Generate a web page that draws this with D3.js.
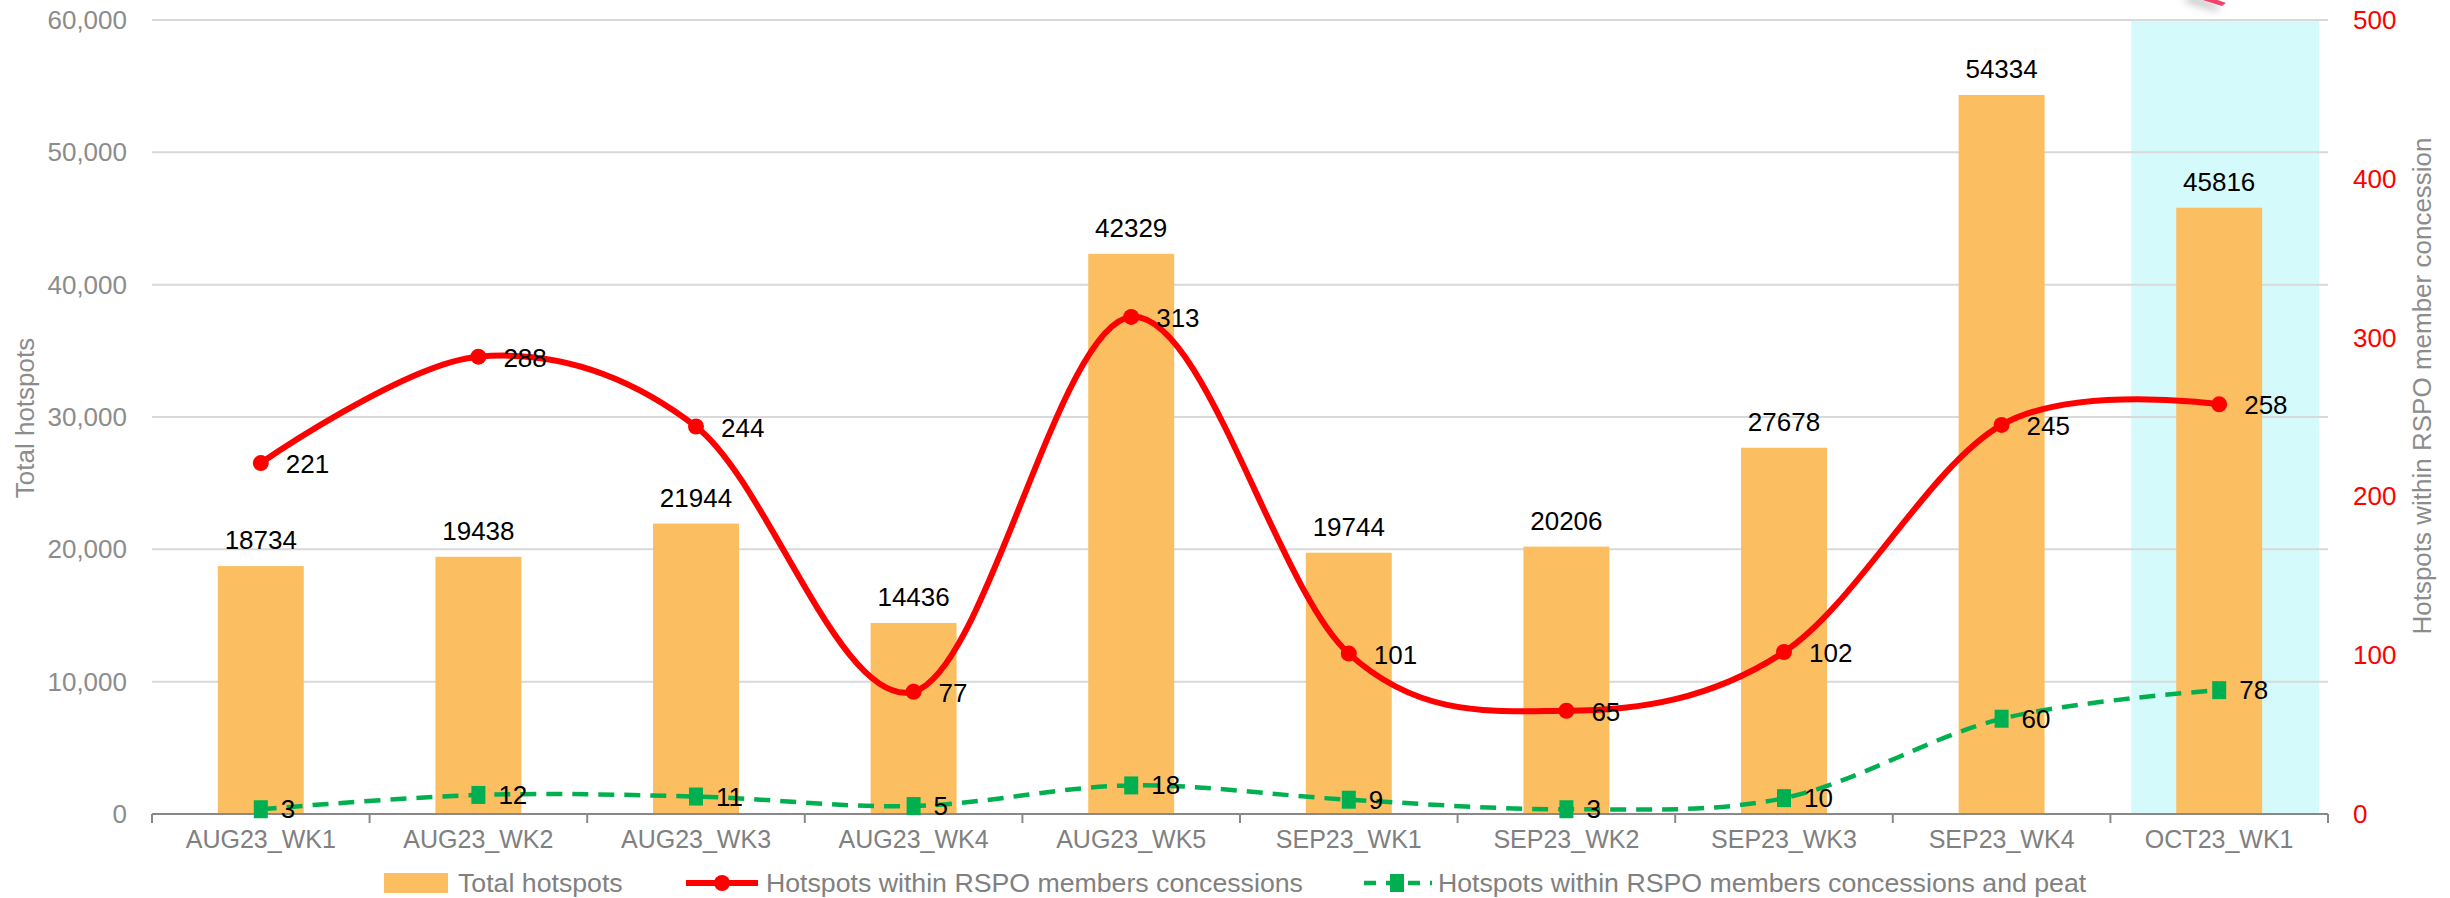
<!DOCTYPE html>
<html><head><meta charset="utf-8">
<script src="https://cdn.jsdelivr.net/npm/d3@7"></script>
<style>body{margin:0;background:#fff} text{font-family:"Liberation Sans",Arial,sans-serif}</style>
</head><body><svg id="c" width="2450" height="898"></svg>
<script>
const categories = ["AUG23_WK1","AUG23_WK2","AUG23_WK3","AUG23_WK4","AUG23_WK5","SEP23_WK1","SEP23_WK2","SEP23_WK3","SEP23_WK4","OCT23_WK1"];
const totalHotspots = [18734,19438,21944,14436,42329,19744,20206,27678,54334,45816];
const rspoConcessions = [221,288,244,77,313,101,65,102,245,258];
const rspoPeat = [3,12,11,5,18,9,3,10,60,78];
const leftTicks = [0,10000,20000,30000,40000,50000,60000];
const rightTicks = [0,100,200,300,400,500];
const highlightCategory = "OCT23_WK1";
const seriesNames = ["Total hotspots","Hotspots within RSPO members concessions","Hotspots within RSPO members concessions and peat"];
const leftTitle = "Total hotspots";
const rightTitle = "Hotspots within RSPO member concession";

const svg = d3.select("#c");
const L=152, R=2328, T=20, B=814;
const x = d3.scaleBand().domain(categories).range([L,R]).paddingInner(0.605).paddingOuter(0.3025);
const step = x.step();
const cx = c => x(c) + x.bandwidth()/2;
const yL = d3.scaleLinear().domain([0,60000]).range([B,T]);
const yR = d3.scaleLinear().domain([0,500]).range([B,T]);

// highlight band
svg.append("rect").attr("x", cx(highlightCategory)-88).attr("y", T)
  .attr("width", 188).attr("height", B-T).attr("fill", "#D5FAFB");

// gridlines
svg.append("g").selectAll("line").data(leftTicks.filter(d=>d>0)).join("line")
  .attr("x1",L).attr("x2",R).attr("y1",d=>yL(d)).attr("y2",d=>yL(d))
  .attr("stroke","#D9D9D9").attr("stroke-width",2);

// bars
svg.append("g").selectAll("rect").data(totalHotspots).join("rect")
  .attr("x",(d,i)=>x(categories[i])).attr("width",x.bandwidth())
  .attr("y",d=>yL(d)).attr("height",d=>B-yL(d)).attr("fill","#FBBF62");
svg.append("g").selectAll("text").data(totalHotspots).join("text")
  .attr("x",(d,i)=>cx(categories[i])).attr("y",d=>yL(d)-17)
  .attr("text-anchor","middle").attr("font-size",26).attr("fill","#000").text(d=>d);

// x axis
svg.append("line").attr("x1",L).attr("x2",R).attr("y1",B).attr("y2",B).attr("stroke","#898989").attr("stroke-width",2);
svg.append("g").selectAll("line").data(d3.range(categories.length+1)).join("line")
  .attr("x1",i=>L+i*step).attr("x2",i=>L+i*step).attr("y1",B).attr("y2",B+9)
  .attr("stroke","#898989").attr("stroke-width",2);
svg.append("g").selectAll("text").data(categories).join("text")
  .attr("x",d=>cx(d)).attr("y",848).attr("text-anchor","middle")
  .attr("font-size",25).attr("fill","#808080").text(d=>d);

// left axis labels
const fmt = d3.format(",");
svg.append("g").selectAll("text").data(leftTicks).join("text")
  .attr("x",127).attr("y",d=>yL(d)+9).attr("text-anchor","end")
  .attr("font-size",26).attr("fill","#8C8C8C").text(d=>fmt(d));
// right axis labels
svg.append("g").selectAll("text").data(rightTicks).join("text")
  .attr("x",2353).attr("y",d=>yR(d)+9).attr("text-anchor","start")
  .attr("font-size",26).attr("fill","#FF0000").text(d=>d);

// titles
svg.append("text").attr("transform","translate(34,418) rotate(-90)").attr("text-anchor","middle")
  .attr("font-size",26).attr("fill","#8C8C8C").text(leftTitle);
svg.append("text").attr("transform","translate(2431,386) rotate(-90)").attr("text-anchor","middle")
  .attr("font-size",26).attr("fill","#8C8C8C").text(rightTitle);

const curve = d3.curveCardinal.tension(0);
// green line
const gLine = d3.line().x((d,i)=>cx(categories[i])).y(d=>yR(d)).curve(curve);
svg.append("path").attr("d",gLine(rspoPeat)).attr("fill","none")
  .attr("stroke","#00B050").attr("stroke-width",4.5).attr("stroke-dasharray","16,10");
svg.append("g").selectAll("rect").data(rspoPeat).join("rect")
  .attr("x",(d,i)=>cx(categories[i])-7).attr("y",d=>yR(d)-9)
  .attr("width",14).attr("height",18).attr("fill","#00B050");
svg.append("g").selectAll("text").data(rspoPeat).join("text")
  .attr("x",(d,i)=>cx(categories[i])+20).attr("y",d=>yR(d)+9)
  .attr("font-size",26).attr("fill","#000").text(d=>d);

// red line
const rLine = d3.line().x((d,i)=>cx(categories[i])).y(d=>yR(d)).curve(curve);
svg.append("path").attr("d",rLine(rspoConcessions)).attr("fill","none")
  .attr("stroke","#FF0000").attr("stroke-width",6);
svg.append("g").selectAll("circle").data(rspoConcessions).join("circle")
  .attr("cx",(d,i)=>cx(categories[i])).attr("cy",d=>yR(d)).attr("r",8).attr("fill","#FF0000");
svg.append("g").selectAll("text").data(rspoConcessions).join("text")
  .attr("x",(d,i)=>cx(categories[i])+25).attr("y",d=>yR(d)+10)
  .attr("font-size",26).attr("fill","#000").text(d=>d);

// legend
const LY = 883;
const lg = svg.append("g");
lg.append("rect").attr("x",384).attr("y",LY-10).attr("width",64).attr("height",20).attr("fill","#FBBF62");
lg.append("text").attr("x",458).attr("y",LY+9).attr("font-size",26.7).attr("fill","#808080").text(seriesNames[0]);
lg.append("line").attr("x1",686).attr("x2",758).attr("y1",LY).attr("y2",LY).attr("stroke","#FF0000").attr("stroke-width",6);
lg.append("circle").attr("cx",722).attr("cy",LY).attr("r",8).attr("fill","#FF0000");
lg.append("text").attr("x",766).attr("y",LY+9).attr("font-size",26.7).attr("fill","#808080").text(seriesNames[1]);
lg.append("line").attr("x1",1362).attr("x2",1432).attr("y1",LY).attr("y2",LY).attr("stroke","#00B050").attr("stroke-width",4.5).attr("stroke-dasharray","12,10").attr("stroke-dashoffset",-2);
lg.append("rect").attr("x",1390).attr("y",LY-9).attr("width",14).attr("height",18).attr("fill","#00B050");
lg.append("text").attr("x",1438).attr("y",LY+9).attr("font-size",26.7).attr("fill","#808080").text(seriesNames[2]);

// partial arrow tip at top
const defs = svg.append("defs");
const f = defs.append("filter").attr("id","sh").attr("x","-100%").attr("y","-100%").attr("width","300%").attr("height","300%");
f.append("feDropShadow").attr("dx",-6).attr("dy",4).attr("stdDeviation",4).attr("flood-color","#000").attr("flood-opacity",0.35);
svg.append("path").attr("d","M2195,-8 L2226,3 L2222,6 L2190,-4 Z").attr("fill","#F0436B").attr("filter","url(#sh)");
</script></body></html>
